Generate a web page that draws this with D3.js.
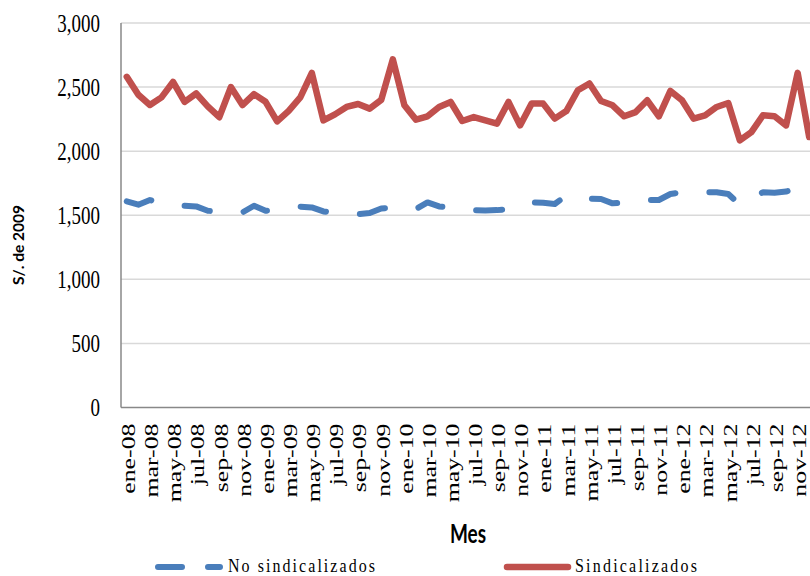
<!DOCTYPE html>
<html>
<head>
<meta charset="utf-8">
<script src="https://cdn.jsdelivr.net/npm/d3@7"></script>
<style>
  html, body { margin: 0; padding: 0; background: #fff; overflow: hidden; }
  svg { display: block; }
</style>
</head>
<body>
<svg id="chart" width="810" height="576"></svg>
<script>
(function () {
// ---------- data ----------
const monthNames = ["ene","feb","mar","abr","may","jun","jul","ago","sep","oct","nov","dic"];
const years = ["08","09","10","11","12"];
const months = [];
years.forEach(yr => monthNames.forEach(m => months.push(m + "-" + yr)));

const sindicalizados = [
  2580, 2440, 2360, 2420, 2540, 2385, 2450, 2350, 2265, 2500, 2360, 2445,
  2385, 2232, 2315, 2420, 2610, 2240, 2287, 2345, 2368, 2332, 2400, 2716,
  2358, 2246, 2272, 2345, 2384, 2235, 2266, 2240, 2214, 2384, 2201, 2371,
  2371, 2254, 2313, 2475, 2528, 2392, 2358, 2272, 2305, 2397, 2272, 2470,
  2397, 2254, 2280, 2345, 2376, 2084, 2149, 2280, 2272, 2201, 2611, 2110
];
const noSindicalizados = [
  1608, 1582, 1619, 1590, 1575, 1574, 1569, 1535, 1530, 1528, 1522, 1574,
  1535, 1540, 1555, 1567, 1561, 1530, 1520, 1515, 1509, 1517, 1553, 1560,
  1560, 1548, 1600, 1569, 1561, 1555, 1540, 1538, 1540, 1548, 1560, 1600,
  1598, 1588, 1653, 1640, 1630, 1627, 1593, 1600, 1610, 1620, 1619, 1666,
  1679, 1680, 1680, 1679, 1666, 1582, 1620, 1680, 1676, 1685, 1710, 1720
];
const yTicks = [0, 500, 1000, 1500, 2000, 2500, 3000];
const xTickLabels = months.filter((d, i) => i % 2 === 0);

// ---------- layout ----------
const svg = d3.select("#chart");
const pLeft = 121, pRight = 815, pTop = 23, pBottom = 407.5;
const stretch = 1.36;

const x = d3.scaleBand().domain(months).range([pLeft, pRight]).paddingInner(0).paddingOuter(0);
const y = d3.scaleLinear().domain([0, 3000]).range([pBottom, pTop]);
const cx = d => x(d) + x.bandwidth() / 2;

// gridlines
svg.append("g").selectAll("line")
  .data(yTicks.filter(t => t > 0))
  .join("line")
  .attr("x1", pLeft).attr("x2", pRight)
  .attr("y1", d => y(d)).attr("y2", d => y(d))
  .attr("stroke", "#d9d9d9").attr("stroke-width", 1.5);

// axes lines
svg.append("line").attr("x1", pLeft).attr("x2", pLeft).attr("y1", pTop).attr("y2", pBottom)
  .attr("stroke", "#888").attr("stroke-width", 1.5);
svg.append("line").attr("x1", pLeft).attr("x2", pRight).attr("y1", pBottom).attr("y2", pBottom)
  .attr("stroke", "#888").attr("stroke-width", 1.5);

// y tick labels
svg.append("g").selectAll("text")
  .data(yTicks)
  .join("text")
  .attr("transform", d => `translate(100,${y(d)}) scale(1,${stretch})`)
  .attr("text-anchor", "end")
  .attr("dominant-baseline", "central")
  .attr("font-family", "Liberation Serif, DejaVu Serif, serif")
  .attr("font-size", 19)
  .attr("fill", "#000")
  .text(d => d3.format(",")(d));

// x tick labels (every other month)
svg.append("g").selectAll("text")
  .data(xTickLabels)
  .join("text")
  .attr("transform", d => `translate(${cx(d) + 2},${pBottom + 16}) scale(1,${stretch}) rotate(-90)`)
  .attr("text-anchor", "end")
  .attr("dominant-baseline", "central")
  .attr("font-family", "Liberation Serif, DejaVu Serif, serif")
  .attr("font-size", 19)
  .attr("fill", "#000")
  .text(d => d);

// axis titles
svg.append("text")
  .attr("transform", `translate(18,245) scale(1,${stretch}) rotate(-90)`)
  .attr("text-anchor", "middle")
  .attr("dominant-baseline", "central")
  .attr("font-family", "Lato, Open Sans, sans-serif")
  .attr("font-weight", "bold")
  .attr("font-size", 15)
  .attr("textLength", 59).attr("lengthAdjust", "spacingAndGlyphs")
  .text("S/. de 2009");

svg.append("text")
  .attr("transform", `translate(468,533) scale(1,${stretch})`)
  .attr("text-anchor", "middle")
  .attr("dominant-baseline", "central")
  .attr("font-family", "Lato, Open Sans, sans-serif")
  .attr("font-weight", "bold")
  .attr("font-size", 19)
  .text("Mes");

// lines
const line = d3.line().x((d, i) => cx(months[i])).y(d => y(d));

svg.append("path")
  .datum(sindicalizados)
  .attr("d", line)
  .attr("fill", "none")
  .attr("stroke", "#c0504d")
  .attr("stroke-width", 6.5)
  .attr("stroke-linejoin", "round")
  .attr("stroke-linecap", "round");

svg.append("path")
  .datum(noSindicalizados)
  .attr("d", line)
  .attr("fill", "none")
  .attr("stroke", "#4a7ebb")
  .attr("stroke-width", 6)
  .attr("stroke-dasharray", "26,34")
  .attr("stroke-linejoin", "round")
  .attr("stroke-linecap", "round");

// legend
const legY = 565;
const leg = svg.append("g");
leg.append("line").attr("x1", 158).attr("x2", 220).attr("y1", legY + 2).attr("y2", legY + 2)
  .attr("stroke", "#4a7ebb").attr("stroke-width", 6)
  .attr("stroke-linecap", "round").attr("stroke-dasharray", "24,26");
leg.append("text")
  .attr("transform", `translate(228,${legY}) scale(1,1.2)`)
  .attr("dominant-baseline", "central")
  .attr("font-family", "Liberation Serif, DejaVu Serif, serif")
  .attr("font-size", 16)
  .attr("textLength", 147).attr("lengthAdjust", "spacing")
  .text("No sindicalizados");
leg.append("line").attr("x1", 507).attr("x2", 568).attr("y1", legY + 2).attr("y2", legY + 2)
  .attr("stroke", "#c0504d").attr("stroke-width", 6.5).attr("stroke-linecap", "round");
leg.append("text")
  .attr("transform", `translate(575,${legY}) scale(1,1.2)`)
  .attr("dominant-baseline", "central")
  .attr("font-family", "Liberation Serif, DejaVu Serif, serif")
  .attr("font-size", 16)
  .attr("textLength", 122).attr("lengthAdjust", "spacing")
  .text("Sindicalizados");
})();
</script>
</body>
</html>
